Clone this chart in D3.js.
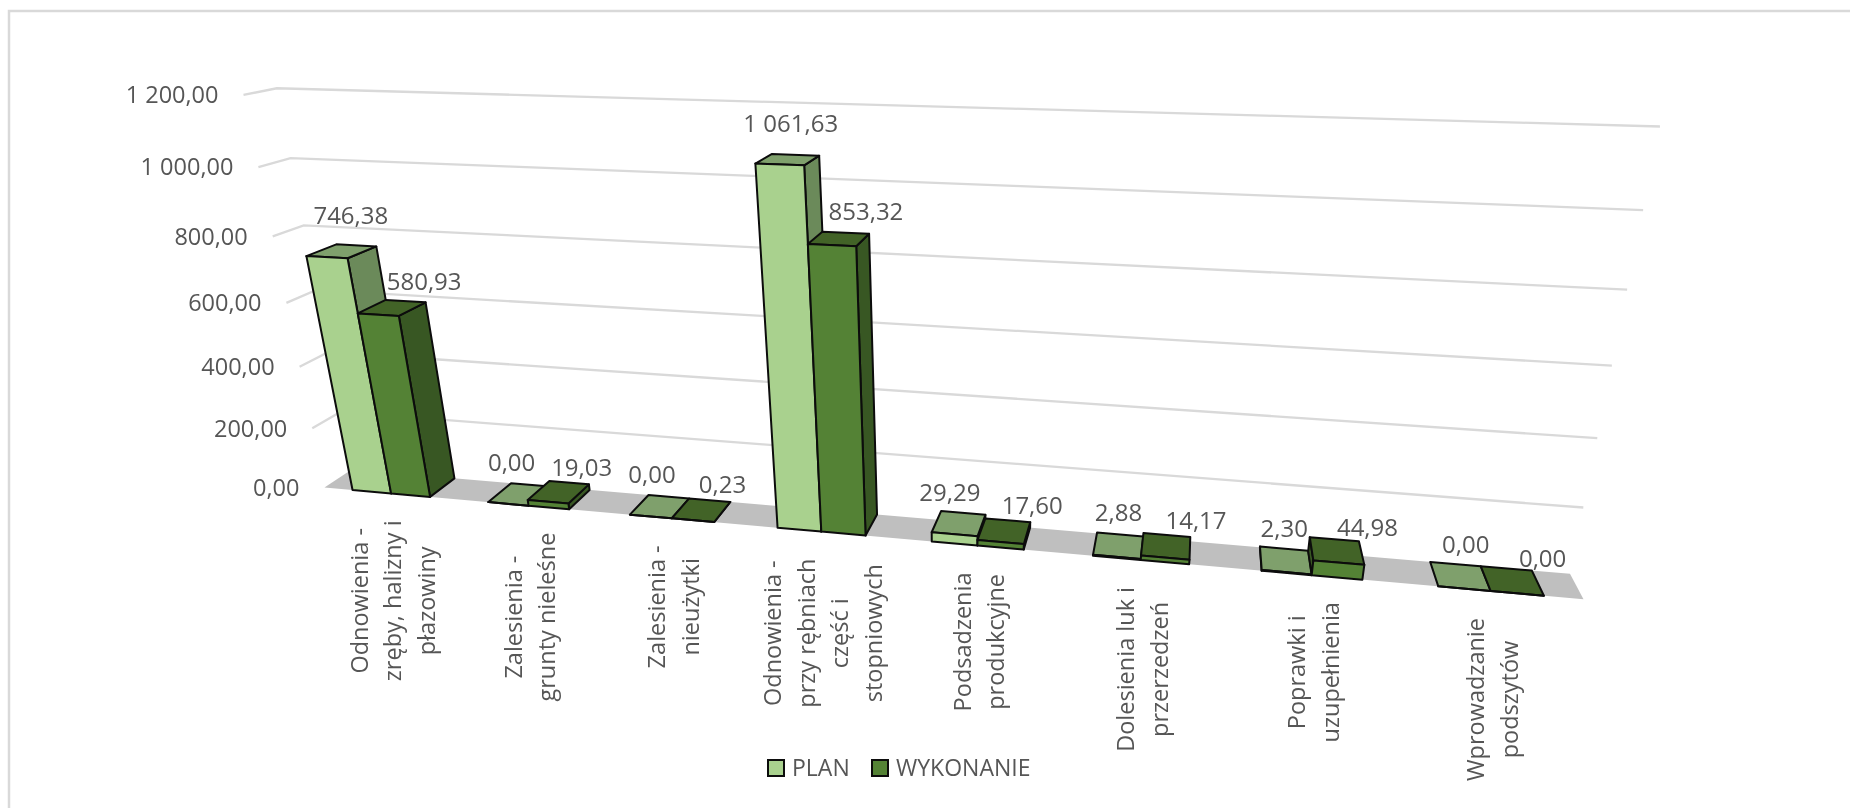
<!DOCTYPE html>
<html><head><meta charset="utf-8">
<script src="https://cdnjs.cloudflare.com/ajax/libs/d3/7.8.5/d3.min.js"></script>
<style>
html,body{margin:0;padding:0;background:#fff;overflow:hidden}
svg{display:block;filter:blur(0.5px)}
text{font-family:"Open Sans",sans-serif}
</style></head><body>
<svg id="c" width="1850" height="808"></svg>
<script>
const categoryLines = [
  ["Odnowienia -","zręby, halizny i","płazowiny"],
  ["Zalesienia -","grunty nieleśne"],
  ["Zalesienia -","nieużytki"],
  ["Odnowienia -","przy rębniach","część i","stopniowych"],
  ["Podsadzenia","produkcyjne"],
  ["Dolesienia luk i","przerzedzeń"],
  ["Poprawki i","uzupełnienia"],
  ["Wprowadzanie","podszytów"]
];
const seriesNames = ["PLAN","WYKONANIE"];
const planValues = [746.38,0,0,1061.63,29.29,2.88,2.30,0];
const wykonanieValues = [580.93,19.03,0.23,853.32,17.60,14.17,44.98,0];
const axisTicks = [0,200,400,600,800,1000,1200];

// camera calibration of the 3D box: plot-space (u,v,w) -> screen pixel
const calibration = [
  [0,0,0,325,487],[0,1,0,351,469],[1,0,0,1583,598.5],[1,1,0,1570,574],
  [0,1,1,277,88],[1,1,1,1660,126],[0,0,1,243,95],
  [1,1,5/6,1643,209.7],[1,1,.5,1611.6,365.9],[1,1,1/6,1583.5,508.3],
  [0,1,5/6,291,158],[0,1,4/6,304,226],[0,0,5/6,258,167],[0,0,4/6,273,237],
  [.0265,0,0,353,490],[.0985,0,0,429,497],[.4015,0,0,779,528],[.4735,0,0,864,535],
  [.5265,0,0,933,542],[.5985,0,0,1023,550],[.9015,0,0,1440,586],[.9735,0,0,1543,596]
];
function solveCamera(pts){
  const A=[],b=[];
  for(const [u,v,w,X0,Y0] of pts){
    const X=X0/1000,Y=Y0/1000;
    A.push([u,v,w,1,0,0,0,0,-X*u,-X*v,-X*w]);b.push(X);
    A.push([0,0,0,0,u,v,w,1,-Y*u,-Y*v,-Y*w]);b.push(Y);
  }
  const n=11,M=d3.range(n).map(i=>d3.range(n+1).map(j=>{
    let s=0;for(let r=0;r<A.length;r++)s+=A[r][i]*(j<n?A[r][j]:b[r]);return s;}));
  for(let c=0;c<n;c++){
    let p=c;for(let r=c+1;r<n;r++)if(Math.abs(M[r][c])>Math.abs(M[p][c]))p=r;
    [M[c],M[p]]=[M[p],M[c]];
    for(let r=0;r<n;r++)if(r!==c){const f=M[r][c]/M[c][c];for(let k=c;k<=n;k++)M[r][k]-=f*M[c][k];}
  }
  return d3.range(n).map(i=>M[i][n]/M[i][i]);
}
const P=solveCamera(calibration);
function project(u,v,w){
  const d=P[8]*u+P[9]*v+P[10]*w+1;
  return [1000*(P[0]*u+P[1]*v+P[2]*w+P[3])/d,1000*(P[4]*u+P[5]*v+P[6]*w+P[7])/d];
}

const yScale=d3.scaleLinear().domain([0,1200]).range([0,1]);
const xScale=d3.scaleBand().domain(d3.range(categoryLines.length)).range([0,1]).paddingInner(.424).paddingOuter(.212);
const sScale=d3.scaleBand().domain(seriesNames).range([0,xScale.bandwidth()]);
const fmt=d3.formatLocale({decimal:",",thousands:"\u00a0",grouping:[3]}).format(",.2f");

const colors={
  PLAN:{front:"#A9D18E",top:"#7FA06C",side:"#6B8A5A"},
  WYKONANIE:{front:"#548235",top:"#426327",side:"#385723"}
};
// label placement relative to the top of each bar
const labelOffset={PLAN:[6,-33],WYKONANIE:[31,-25]};
const labelNudge={
  PLAN:[[3,-3],[-14,1],[-14,1],[-3,-3],[-15,2],[-6,0],[-7,1],[0,1]],
  WYKONANIE:[[1,-1],[-8,1],[-10,0],[-4,-2],[-3,0],[-1,0],[0,2],[0,3]]
};
const gridColor="#D9D9D9",textColor="#565656",edge="#0c0c0c";

const svg=d3.select("#c");
svg.append("path").attr("d","M9,2000V11H2000").attr("fill","none").attr("stroke",gridColor).attr("stroke-width",2.5);

const line=d3.line();
const poly=p=>line(p)+"Z";

// floor
svg.append("path").attr("d",poly([project(0,0,0),project(1,0,0),project(1,1,0),project(0,1,0)])).attr("fill","#BFBFBF");

// gridlines and tick labels
const grid=svg.append("g");
axisTicks.forEach(t=>{
  const w=yScale(t),a=project(0,0,w);
  if(t>0) grid.append("path").attr("d",line([a,project(0,1,w),project(1,1,w)]))
    .attr("fill","none").attr("stroke",gridColor).attr("stroke-width",2.3);
  grid.append("text").attr("x",a[0]-25).attr("y",a[1]).attr("dy",".35em")
    .attr("text-anchor","end").attr("font-size",23.5).attr("fill",textColor).text(fmt(t));
});

// bars
const seriesValues={PLAN:planValues,WYKONANIE:wykonanieValues};
const bars=svg.append("g"),labels=svg.append("g");
categoryLines.forEach((_,i)=>{
  seriesNames.forEach(name=>{
    const val=seriesValues[name][i];
    const u0=xScale(i)+sScale(name),u1=u0+sScale.bandwidth(),h=yScale(val);
    const top=[[u0,0,h],[u1,0,h],[u1,1,h],[u0,1,h]].map(p=>project(...p));
    const front=[[u0,0,0],[u1,0,0],[u1,0,h],[u0,0,h]].map(p=>project(...p));
    const left=[[u0,1,0],[u0,0,0],[u0,0,h],[u0,1,h]].map(p=>project(...p));
    const right=[[u1,0,0],[u1,1,0],[u1,1,h],[u1,0,h]].map(p=>project(...p));
    const sign=Math.sign(d3.polygonArea(top));
    const faces=[];
    if(h>0&&d3.polygonArea(left)*sign>0)faces.push([left,"side"]);
    if(h>0&&d3.polygonArea(right)*sign>0)faces.push([right,"side"]);
    faces.push([top,"top"],[front,"front"]);
    faces.forEach(([pts,k])=>bars.append("path").attr("d",poly(pts))
      .attr("fill",colors[name][k]).attr("stroke",edge).attr("stroke-width",2).attr("stroke-linejoin","round"));
    const c=project((u0+u1)/2,.5,h),o=labelOffset[name],n=labelNudge[name][i];
    labels.append("text").attr("x",c[0]+o[0]+n[0]).attr("y",c[1]+o[1]+n[1]).attr("dy",".35em")
      .attr("text-anchor","middle").attr("font-size",24).attr("fill",textColor).text(fmt(val));
  });
});

// category labels
const catGroup=svg.append("g");
categoryLines.forEach((lines,i)=>{
  const b=project(xScale(i)+xScale.bandwidth()/2,0,0);
  const ts=lines.map((s,j)=>catGroup.append("text").attr("text-anchor","middle").attr("dy",".35em")
    .attr("font-size",23.5).attr("fill",textColor).text(s));
  const longest=d3.max(ts,t=>t.node().getComputedTextLength());
  const cy=b[1]+27+longest/2;
  ts.forEach((t,j)=>{
    const x=b[0]+2+(j-(lines.length-1)/2)*33.5;
    t.attr("transform",`translate(${x},${cy}) rotate(-90)`);
  });
});

// legend
const legend=svg.append("g");
const legendX=d3.scaleOrdinal().domain(seriesNames).range([768,872]);
seriesNames.forEach(name=>{
  legend.append("rect").attr("x",legendX(name)).attr("y",760).attr("width",16).attr("height",16)
    .attr("fill",colors[name].front).attr("stroke",edge).attr("stroke-width",2);
  legend.append("text").attr("x",legendX(name)+24).attr("y",768).attr("dy",".35em")
    .attr("font-size",23).attr("fill",textColor).text(name);
});
</script>
</body></html>
